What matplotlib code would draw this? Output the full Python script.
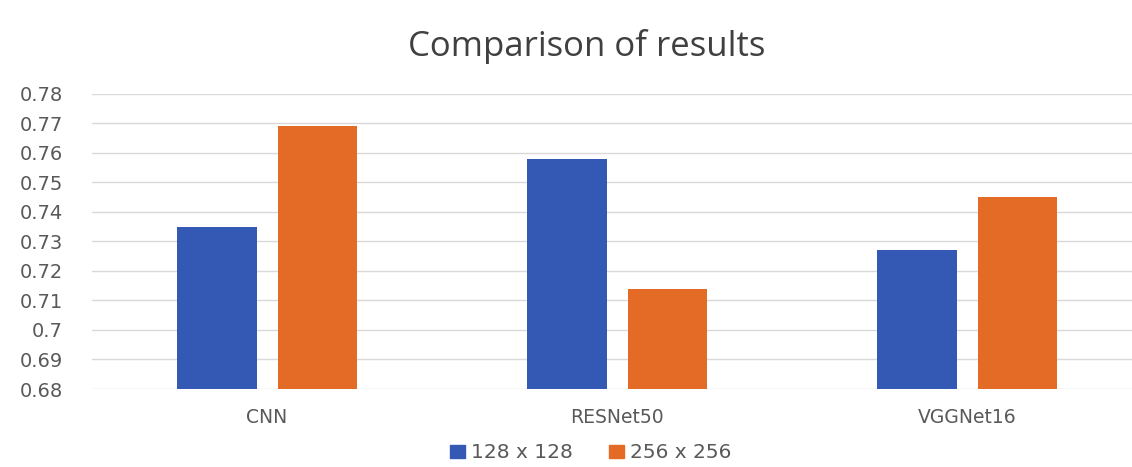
import numpy as np
import matplotlib.pyplot as plt
from matplotlib.patches import Patch

models = ['CNN', 'RESNet50', 'VGGNet16']
res_128 = [0.735, 0.758, 0.727]
res_256 = [0.769, 0.714, 0.745]
series_labels = ['128 x 128', '256 x 256']
yticks = [0.68, 0.69, 0.70, 0.71, 0.72, 0.73, 0.74, 0.75, 0.76, 0.77, 0.78]
ytick_labels = ['0.68', '0.69', '0.7', '0.71', '0.72', '0.73', '0.74', '0.75', '0.76', '0.77', '0.78']

blue = '#3459b4'
orange = '#e46b26'
grey = '#595959'

fig = plt.figure(figsize=(11.32, 4.67), dpi=100)
ax = fig.add_axes([0.0813, 0.167, 0.9276, 0.632])

x = np.arange(len(models))
w = 0.226
off = 0.143
ax.bar(x - off, res_128, w, color=blue, zorder=3)
ax.bar(x + off, res_256, w, color=orange, zorder=3)

ax.set_xlim(-0.5, 2.5)
ax.set_ylim(0.68, 0.78)
ax.set_yticks(yticks)
ax.set_yticklabels(ytick_labels, fontsize=14, color=grey)
ax.set_xticks(x)
ax.set_xticklabels(models, fontsize=13.5, color=grey)
ax.tick_params(axis='both', length=0)
ax.tick_params(axis='x', pad=14)
ax.tick_params(axis='y', pad=21)
ax.grid(axis='y', color='#d9d9d9', lw=1, zorder=0)
for s in ax.spines.values():
    s.set_visible(False)

fig.text(0.518, 0.9, 'Comparison of results', ha='center', va='center',
         fontsize=25, color='#404040', family='Open Sans')

handles = [Patch(color=blue), Patch(color=orange)]
fig.legend(handles, series_labels, loc='center', bbox_to_anchor=(0.522, 0.03),
           ncol=2, frameon=False, fontsize=14.5, handlelength=0.75, handleheight=0.6,
           columnspacing=1.8, handletextpad=0.3, labelcolor=grey)

fig.savefig('out.png', dpi=100)
